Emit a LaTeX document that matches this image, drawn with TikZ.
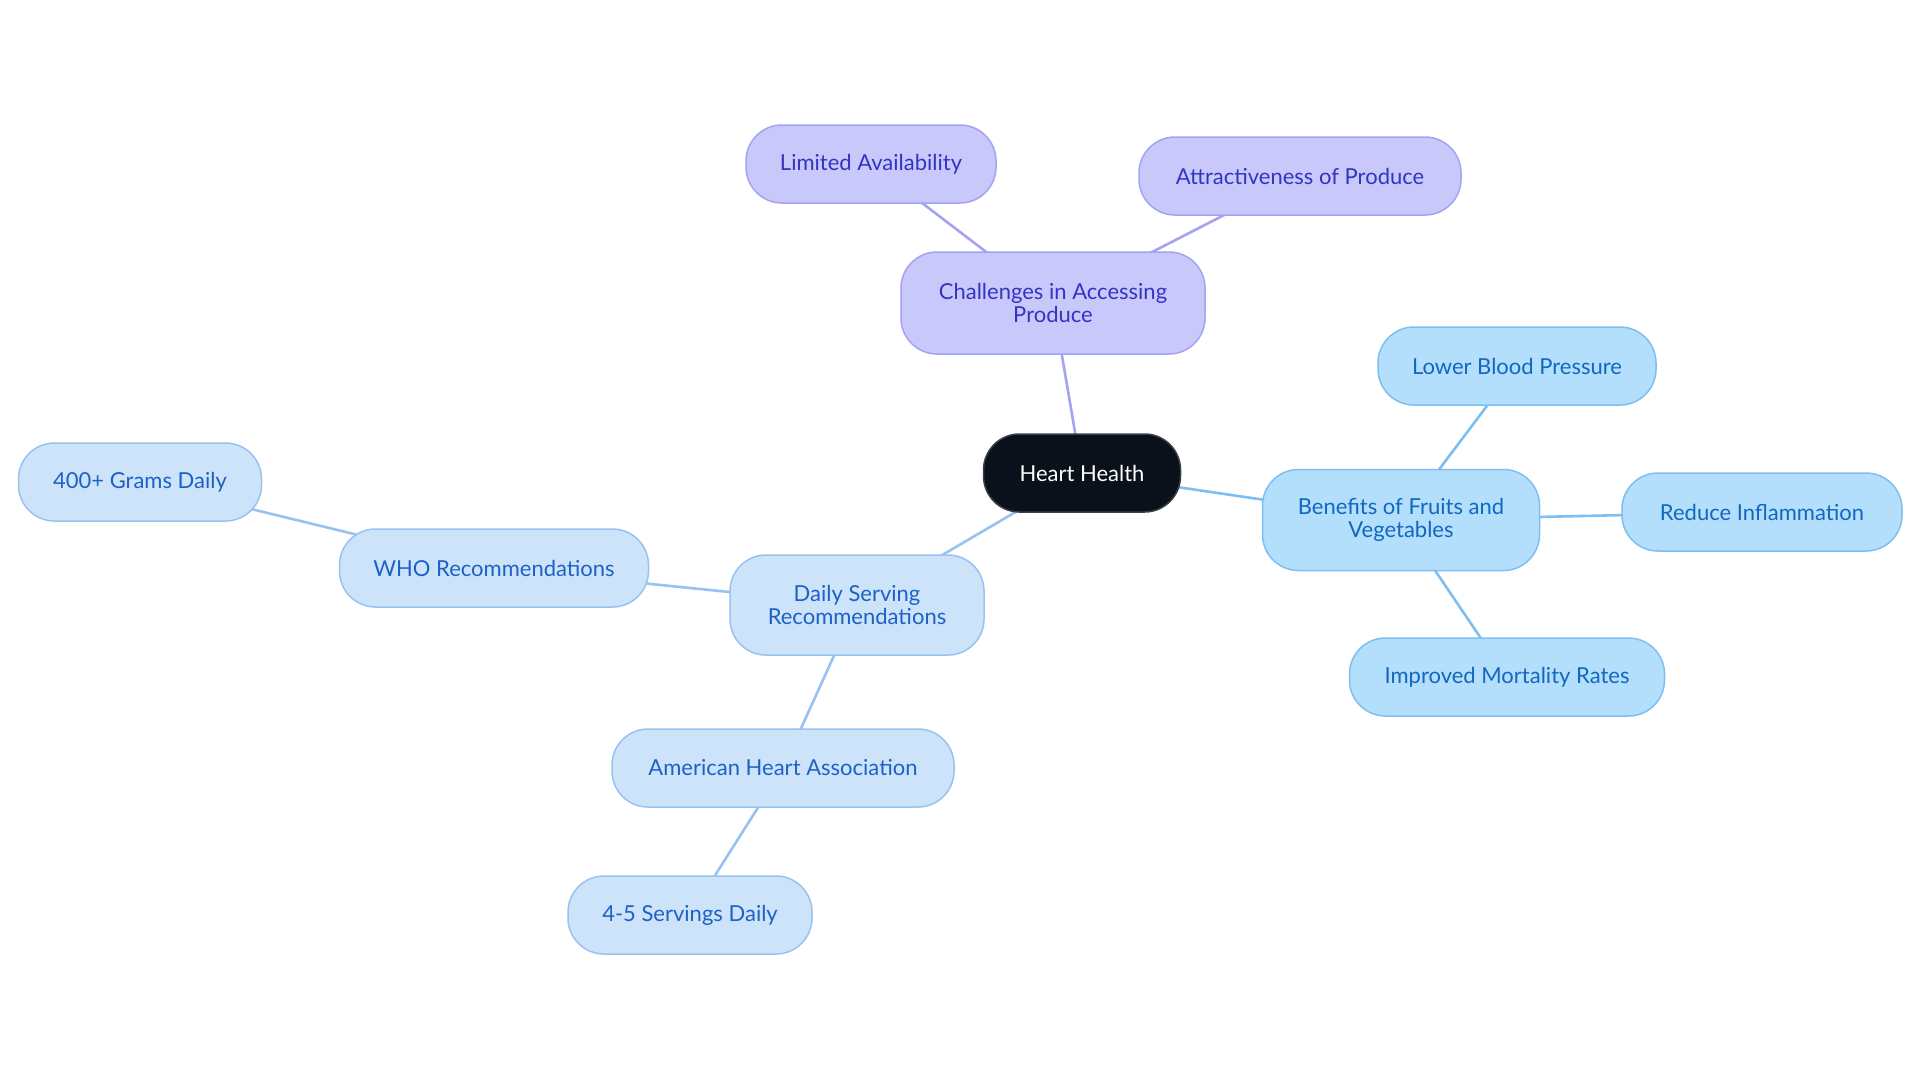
\documentclass[tikz,border=0pt]{standalone}
\usepackage{fontspec}
\setmainfont{Lato}
\usepackage{tikz}
\usetikzlibrary{backgrounds}
\definecolor{rootfill}{HTML}{0B111A}
\definecolor{rootedge}{HTML}{3A3F47}
\definecolor{lilacfill}{HTML}{C8C9FA}
\definecolor{lilacedge}{HTML}{A3A3F0}
\definecolor{lilactext}{HTML}{3333C4}
\definecolor{skyfill}{HTML}{B3DEFC}
\definecolor{skyedge}{HTML}{7DBFF0}
\definecolor{skytext}{HTML}{1268BE}
\definecolor{palefill}{HTML}{CDE3FA}
\definecolor{paleedge}{HTML}{98C2F0}
\definecolor{paletext}{HTML}{1C62C6}
\tikzset{
  pill/.style={rounded corners=18pt, draw=#1edge, line width=0.75pt,
               fill=#1fill, text=#1text, align=center, inner sep=2pt,
               minimum height=39pt, font=\fontsize{11}{11.5}\selectfont},
  link/.style={line width=1.3pt, draw=#1},
}

\begin{document}
\begin{tikzpicture}[x=0.5pt, y=-0.5pt]
\useasboundingbox (0,0) rectangle (1920,1083);

% ------------------------- centre ---------------------------------------
\node[pill=lilac, fill=rootfill, draw=rootedge, text=white,
      minimum width=98.5pt] at (1082,473) (heart) {Heart Health};

% ------------------------- challenges -----------------------------------
\node[pill=lilac, minimum width=152pt, minimum height=51pt] at (1053,303) (chal)
   {Challenges in Accessing\\Produce};
\node[pill=lilac, minimum width=125pt] at (871,164) (avail) {Limited Availability};
\node[pill=lilac, minimum width=161pt] at (1300,176) (attr) {Attractiveness of Produce};

% ------------------------- benefits -------------------------------------
\node[pill=sky, minimum width=138.5pt, minimum height=50.5pt] at (1401,520) (bene)
   {Benefits of Fruits and\\Vegetables};
\node[pill=sky, minimum width=139pt] at (1517,366) (bp) {Lower Blood Pressure};
\node[pill=sky, minimum width=140pt] at (1762,512) (infl) {Reduce Inflammation};
\node[pill=sky, minimum width=157.5pt] at (1507,677) (mort) {Improved Mortality Rates};

% ------------------------- servings -------------------------------------
\node[pill=pale, minimum width=127pt, minimum height=50pt] at (857,605) (serv)
   {Daily Serving\\Recommendations};
\node[pill=pale, minimum width=154.5pt] at (494,568) (who) {WHO Recommendations};
\node[pill=pale, minimum width=121.5pt] at (140,482) (grams) {400+ Grams Daily};
\node[pill=pale, minimum width=171pt] at (783,768) (aha) {American Heart Association};
\node[pill=pale, minimum width=122pt] at (690,915) (four) {4-5 Servings Daily};

% ------------------------- links ----------------------------------------
\begin{scope}[on background layer]
\draw[link=lilacedge] (heart.center) -- (chal.center);
\foreach \n in {avail,attr}{\draw[link=lilacedge] (chal.center) -- (\n.center);}
\draw[link=skyedge] (heart.center) -- (bene.center);
\foreach \n in {bp,infl,mort}{\draw[link=skyedge] (bene.center) -- (\n.center);}
\draw[link=paleedge] (heart.center) -- (serv.center);
\draw[link=paleedge] (serv.center) -- (who.center) -- (grams.center);
\draw[link=paleedge] (serv.center) -- (aha.center) -- (four.center);
\end{scope}
\end{tikzpicture}
\end{document}
